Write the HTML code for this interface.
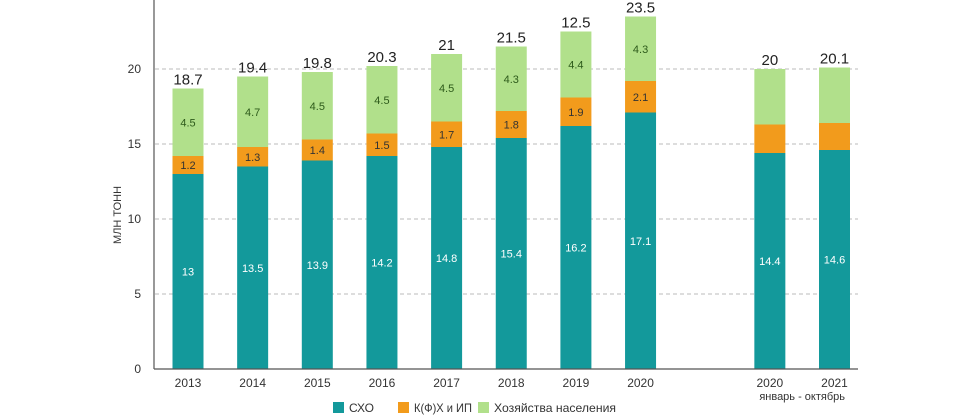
<!DOCTYPE html>
<html><head><meta charset="utf-8"><style>
html,body{margin:0;padding:0;background:#fff;}
svg{display:block;font-family:"Liberation Sans",sans-serif;}
</style></head><body>
<svg id="chart" width="969" height="419"></svg>
<script>
const categories=["2013","2014","2015","2016","2017","2018","2019","2020","2020","2021"];
const slots=[0,1,2,3,4,5,6,7,9,10];
const sxo=[13,13.5,13.9,14.2,14.8,15.4,16.2,17.1,14.4,14.6];
const kfx=[1.2,1.3,1.4,1.5,1.7,1.8,1.9,2.1,1.9,1.8];
const hh=[4.5,4.7,4.5,4.5,4.5,4.3,4.4,4.3,3.7,3.7];
const totalLabels=["18.7","19.4","19.8","20.3","21","21.5","12.5","23.5","20","20.1"];
const showSegLabels=[true,true,true,true,true,true,true,true,false,false];
const yTicks=[0,5,10,15,20];
const NS="http://www.w3.org/2000/svg";
const svg=document.getElementById('chart');
const y=v=>369-v*15;
const x=s=>188+s*64.65;
const BW=31;
function mk(t,a,txt){const e=document.createElementNS(NS,t);for(const k in a)e.setAttribute(k,a[k]);if(txt!==undefined)e.textContent=txt;svg.appendChild(e);return e;}
yTicks.forEach(v=>{
  if(v>0){const g=mk('line',{x1:155,x2:858,y1:y(v),y2:y(v),stroke:'#bbb','stroke-dasharray':'4,3'});
  
  }
  const t=mk('text',{x:141,y:y(v)+4,'text-anchor':'end','font-size':12,fill:'#333'},String(v));
  
  
});
const ax=mk('line',{x1:154,x2:154,y1:0,y2:369,stroke:'#555','stroke-width':1.2});


const yt=mk('text',{x:0,y:0,transform:'translate(121,215) rotate(-90)','text-anchor':'middle','font-size':11,fill:'#333'},'МЛН ТОНН');


categories.forEach((c,i)=>{
  const cx=x(slots[i]),x0=cx-BW/2;
  const segs=[[0,sxo[i],'#13999b','#fff','sxo'],[sxo[i],kfx[i],'#f29b1c','#333','kfx'],[sxo[i]+kfx[i],hh[i],'#b1e08b','#2d5a1a','households']];
  segs.forEach(s=>{
    const r=mk('rect',{x:x0,y:y(s[0]+s[1]),width:BW,height:s[1]*15,fill:s[2]});
    
    
    if(s[4]==='sxo'||showSegLabels[i]){
      const t=mk('text',{x:cx,y:y(s[0]+s[1]/2)+4,'text-anchor':'middle','font-size':11,fill:s[3]},String(s[1]));
      
      
    }
  });
  const tot=sxo[i]+kfx[i]+hh[i];
  const tl=mk('text',{x:cx,y:y(tot)-4,'text-anchor':'middle','font-size':15,fill:'#222'},totalLabels[i]);
  
  
  const xl=mk('text',{x:cx,y:387,'text-anchor':'middle','font-size':12,fill:'#333'},c);
  
  
});
const bl=mk('line',{x1:154,x2:858,y1:369,y2:369,stroke:'#555','stroke-width':1.2});


const sub=mk('text',{x:(x(9)+x(10))/2,y:400,'text-anchor':'middle','font-size':11,fill:'#333'},'январь - октябрь');


const leg=[[333,'#13999b','СХО','sxo',25],[398,'#f29b1c','К(Ф)Х и ИП','kfx',58],[478,'#b1e08b','Хозяйства населения','households',122]];
leg.forEach(l=>{
  const r=mk('rect',{x:l[0],y:402,width:11,height:11,fill:l[1]});
  
  
  const t=mk('text',{x:l[0]+16,y:412,'font-size':12,fill:'#333',textLength:l[4],lengthAdjust:'spacingAndGlyphs'},l[2]);
  
  
});
</script>
</body></html>
